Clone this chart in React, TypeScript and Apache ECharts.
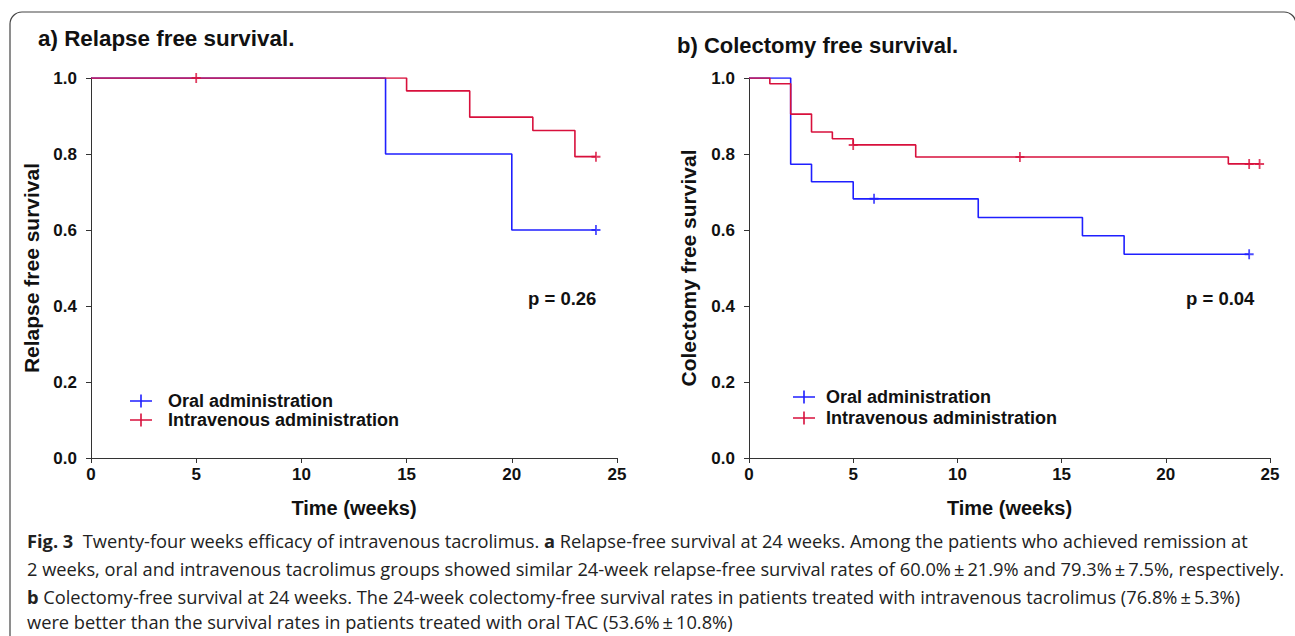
import React, { useEffect, useRef } from "react";
import * as echarts from "echarts";

// ---- Data ----
const xTicks = [0, 5, 10, 15, 20, 25];
const seriesNames = ["Oral administration", "Intravenous administration"];

// a) Relapse free survival
const aOralTimes = [0, 14, 20, 24];
const aOralSurv = [1.0, 0.8, 0.6, 0.6];
const aOralCensorTimes = [24];
const aOralCensorSurv = [0.6];
const aIvTimes = [0, 15, 18, 21, 23, 24];
const aIvSurv = [1.0, 0.966, 0.897, 0.862, 0.793, 0.793];
const aIvCensorTimes = [5, 24];
const aIvCensorSurv = [1.0, 0.793];

// b) Colectomy free survival
const bOralTimes = [0, 2, 3, 5, 11, 16, 18, 24];
const bOralSurv = [1.0, 0.773, 0.727, 0.682, 0.633, 0.585, 0.536, 0.536];
const bOralCensorTimes = [6, 24];
const bOralCensorSurv = [0.682, 0.536];
const bIvTimes = [0, 1, 2, 3, 4, 5, 8, 23, 24.5];
const bIvSurv = [1.0, 0.985, 0.905, 0.858, 0.84, 0.824, 0.792, 0.774, 0.774];
const bIvCensorTimes = [5, 13, 24, 24.5];
const bIvCensorSurv = [0.824, 0.792, 0.774, 0.774];

const pValues = ["p = 0.26", "p = 0.04"];
const titles = ["a) Relapse free survival.", "b) Colectomy free survival."];
const yNames = ["Relapse free survival", "Colectomy free survival"];
const xName = "Time (weeks)";

const captionLines = [
  "{b|Fig. 3}  Twenty-four weeks efficacy of intravenous tacrolimus. {b|a} Relapse-free survival at 24 weeks. Among the patients who achieved remission at",
  "2 weeks, oral and intravenous tacrolimus groups showed similar 24-week relapse-free survival rates of 60.0%\u2009\u00b1\u200921.9% and 79.3%\u2009\u00b1\u20097.5%, respectively.",
  "{b|b} Colectomy-free survival at 24 weeks. The 24-week colectomy-free survival rates in patients treated with intravenous tacrolimus (76.8%\u2009\u00b1\u20095.3%)",
  "were better than the survival rates in patients treated with oral TAC (53.6%\u2009\u00b1\u200910.8%)",
];

const BLUE = "#1f1fff";
const RED = "#d8103c";
const FONT = "'Liberation Sans', Arial, sans-serif";
const CAPFONT = "'Open Sans', 'Noto Sans', sans-serif";

const zip = (a: number[], b: number[]) => a.map((v, i) => [v, b[i]]);

const PLUS = "path://M0,4.0H10V6.0H0Z M4.0,0H6.0V10H4.0Z";
const LEGEND_ICON = "path://M0,5.6H22V7.2H0Z M10.2,0H11.8V12.8H10.2Z";

export default function App() {
  const ref = useRef<HTMLDivElement>(null);
  useEffect(() => {
    if (!ref.current) return;
    const chart = echarts.init(ref.current, undefined, { renderer: "svg" });

    const grids = [
      { left: 91, top: 78, width: 526, height: 380 },
      { left: 749, top: 78, width: 521, height: 380 },
    ];

    const mkX = (gi: number) => ({
      type: "value",
      gridIndex: gi,
      min: xTicks[0],
      max: xTicks[xTicks.length - 1],
      interval: 5,
      name: xName,
      nameLocation: "middle",
      nameGap: 40,
      nameTextStyle: { fontFamily: FONT, fontWeight: "bold", fontSize: 20, color: "#111" },
      axisLine: { show: true, onZero: false, lineStyle: { color: "#333", width: 1 } },
      axisTick: { show: true, length: 5, lineStyle: { color: "#333" } },
      axisLabel: { margin: 8, fontFamily: FONT, fontWeight: "bold", fontSize: 17, color: "#111" },
      splitLine: { show: false },
    });
    const mkY = (gi: number, nameGap: number) => ({
      type: "value",
      gridIndex: gi,
      min: 0,
      max: 1,
      interval: 0.2,
      name: yNames[gi],
      nameLocation: "middle",
      nameGap,
      nameTextStyle: { fontFamily: FONT, fontWeight: "bold", fontSize: 21, color: "#111" },
      axisLine: { show: true, lineStyle: { color: "#333", width: 1 } },
      axisTick: { show: true, length: 5, lineStyle: { color: "#333" } },
      axisLabel: {
        margin: 14,
        fontFamily: FONT,
        fontWeight: "bold",
        fontSize: 17,
        color: "#111",
        formatter: (v: number) => v.toFixed(1),
      },
      splitLine: { show: false },
    });

    const stepLine = (name: string, gi: number, data: number[][], color: string) => ({
      type: "line",
      name,
      xAxisIndex: gi,
      yAxisIndex: gi,
      data,
      step: "end",
      symbol: "none",
      showSymbol: false,
      lineStyle: { color, width: 1.6 },
      itemStyle: { color },
      z: 2,
    });
    const censor = (name: string, gi: number, data: number[][], color: string) => ({
      type: "scatter",
      name,
      xAxisIndex: gi,
      yAxisIndex: gi,
      data,
      symbol: PLUS,
      symbolSize: [9, 10],
      itemStyle: { color },
      z: 3,
    });

    const legend = (left: number, top: number, gap: number, textPad: number) => ({
      orient: "vertical",
      left,
      top,
      padding: 0,
      itemWidth: 22,
      itemHeight: 13,
      itemGap: gap,
      selectedMode: false,
      textStyle: { fontFamily: FONT, fontWeight: "bold", fontSize: 18, color: "#111", padding: [0, 0, 0, textPad] },
      data: [
        { name: seriesNames[0], icon: LEGEND_ICON, itemStyle: { color: BLUE } },
        { name: seriesNames[1], icon: LEGEND_ICON, itemStyle: { color: RED } },
      ],
    });

    const graphic: any[] = [
      {
        type: "rect",
        shape: { x: 10, y: 12, width: 1286, height: 720, r: 12 },
        style: { fill: "none", stroke: "#444", lineWidth: 1.2 },
        silent: true,
      },
      {
        type: "text",
        x: 38,
        y: 38,
        style: { text: titles[0], fontFamily: FONT, fontWeight: "bold", fontSize: 22.4, fill: "#111", verticalAlign: "middle" },
      },
      {
        type: "text",
        x: 677,
        y: 45,
        style: { text: titles[1], fontFamily: FONT, fontWeight: "bold", fontSize: 22, fill: "#111", verticalAlign: "middle" },
      },
      {
        type: "text",
        x: 528,
        y: 298,
        style: { text: pValues[0], fontFamily: FONT, fontWeight: "bold", fontSize: 18.5, fill: "#111", verticalAlign: "middle" },
      },
      {
        type: "text",
        x: 1186,
        y: 298,
        style: { text: pValues[1], fontFamily: FONT, fontWeight: "bold", fontSize: 18.5, fill: "#111", verticalAlign: "middle" },
      },
    ];
    const capY = [540, 568, 596, 621];
    captionLines.forEach((line, i) => {
      graphic.push({
        type: "text",
        x: 27,
        y: capY[i],
        style: {
          text: line,
          fontFamily: CAPFONT,
          fontSize: 18.25,
          fill: "#222",
          verticalAlign: "middle",
          rich: { b: { fontFamily: CAPFONT, fontSize: 18.25, fontWeight: "bold", fill: "#222" } },
        },
      });
    });

    chart.setOption({
      animation: false,
      backgroundColor: "#fff",
      grid: grids.map((g) => ({ ...g, outerBoundsMode: "none", containLabel: false })),
      xAxis: [mkX(0), mkX(1)],
      yAxis: [mkY(0, 49), mkY(1, 50)],
      legend: [legend(130, 392, 1, 11), legend(793, 388, 3, 6)],
      series: [
        stepLine(seriesNames[0], 0, zip(aOralTimes, aOralSurv), BLUE),
        stepLine(seriesNames[1], 0, zip(aIvTimes, aIvSurv), RED),
        censor(seriesNames[0], 0, zip(aOralCensorTimes, aOralCensorSurv), BLUE),
        censor(seriesNames[1], 0, zip(aIvCensorTimes, aIvCensorSurv), RED),
        stepLine(seriesNames[0], 1, zip(bOralTimes, bOralSurv), BLUE),
        stepLine(seriesNames[1], 1, zip(bIvTimes, bIvSurv), RED),
        censor(seriesNames[0], 1, zip(bOralCensorTimes, bOralCensorSurv), BLUE),
        censor(seriesNames[1], 1, zip(bIvCensorTimes, bIvCensorSurv), RED),
      ],
      graphic,
    });
    return () => chart.dispose();
  }, []);
  return (
    <div
      ref={ref}
      style={{ position: "fixed", left: 0, top: 0, width: 1295, height: 636 }}
    />
  );
}
